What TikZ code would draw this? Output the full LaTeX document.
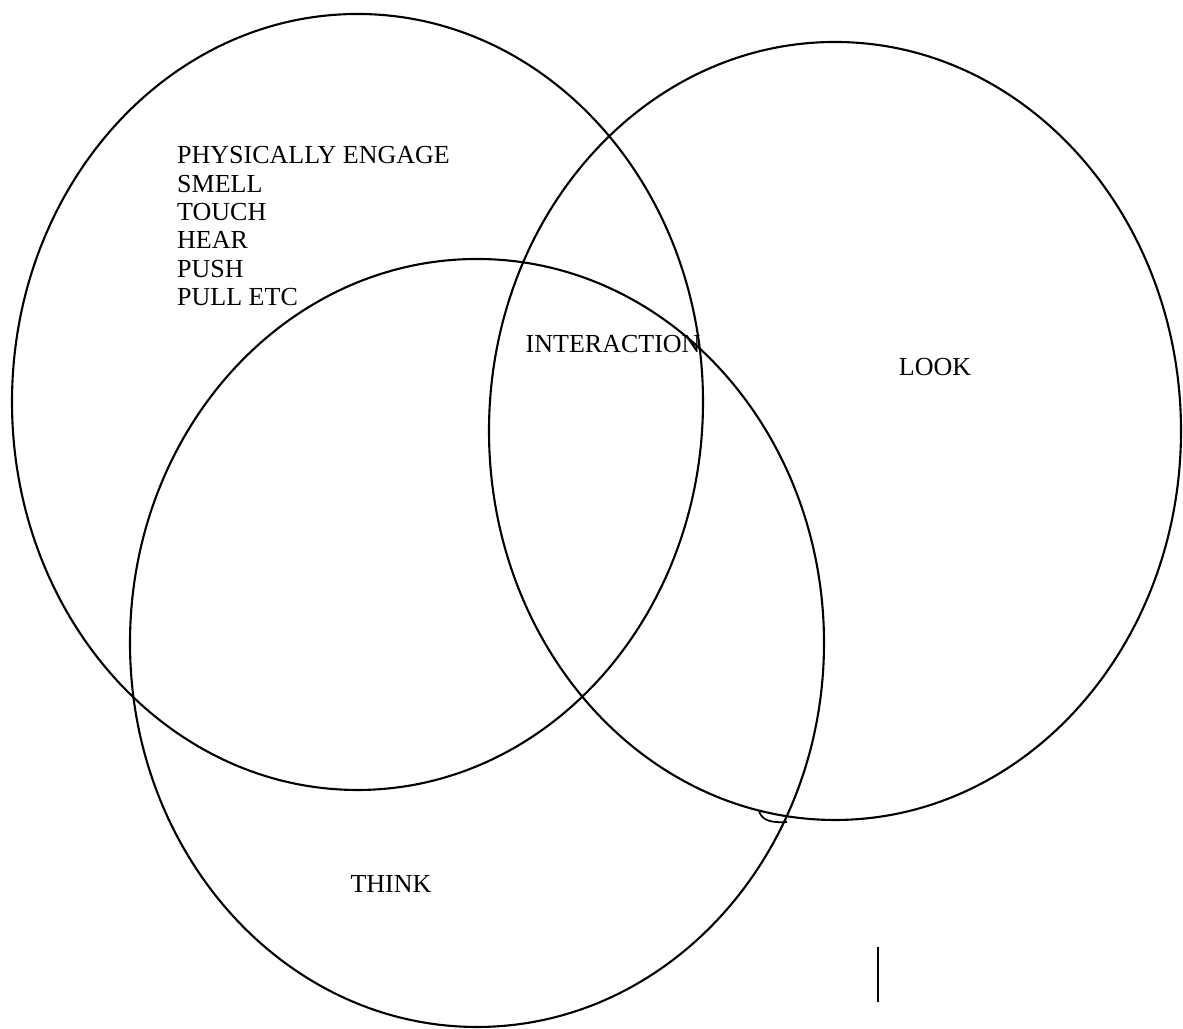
\documentclass[tikz,border=0pt]{standalone}
\usepackage{fontspec}
\setmainfont{Liberation Serif}
\usetikzlibrary{positioning}

\begin{document}
\begin{tikzpicture}[
  set/.style={draw, line width=0.6pt},
  lbl/.style={inner sep=0pt, font=\fontsize{7.4}{8.06}\selectfont, align=left},
]
\useasboundingbox (0,0) rectangle (11.83,10.29);

% the three sets
\draw[set] (3.575,6.27) ellipse [x radius=3.455, y radius=3.88];
\draw[set] (8.35,5.98) ellipse [x radius=3.46, y radius=3.89];
\draw[set] (4.77,3.86) ellipse [x radius=3.47, y radius=3.84];

% labels
\node[lbl, anchor=north west] (engage) at (1.765,8.83)
  {PHYSICALLY ENGAGE\\SMELL\\TOUCH\\HEAR\\PUSH\\PULL ETC};
\node[lbl, anchor=base west] (interaction) at (5.25,6.76) {INTERACTION};
\node[lbl] (look) at (9.35,6.62) {LOOK};
\node[lbl] (think) at (3.91,1.45) {THINK};

% small marks
\coordinate (nickA) at (7.59,2.18);
\coordinate (nickB) at (7.87,2.07);
\draw[set, line width=0.5pt] (nickA) .. controls (7.62,2.08) and (7.72,2.06) .. (nickB);
\coordinate (tickTop) at (8.78,0.82);
\coordinate (tickBot) at (8.78,0.27);
\draw[set] (tickTop) -- (tickBot);
\end{tikzpicture}
\end{document}
